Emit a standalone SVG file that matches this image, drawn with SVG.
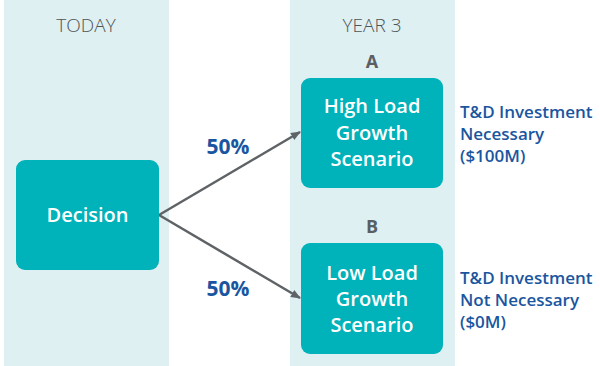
<svg xmlns="http://www.w3.org/2000/svg" width="600" height="366" viewBox="0 0 600 366">
<style>
.panel{fill:#dff0f2}
.hdr{font-family:"Open Sans","Noto Sans",sans-serif;font-weight:300;font-size:19px;fill:#4f5458;text-anchor:middle}
.lbl{font-family:"Open Sans","Noto Sans",sans-serif;font-weight:700;font-size:18px;fill:#5a5f63;text-anchor:middle}
.box{fill:#00b2b9}
.bt{font-family:"Open Sans","Noto Sans",sans-serif;font-weight:600;font-size:20px;fill:#ffffff;text-anchor:middle}
.side{font-family:"Open Sans","Noto Sans",sans-serif;font-weight:600;font-size:17px;fill:#1a56a0}
.pct{font-family:"Open Sans","Noto Sans",sans-serif;font-weight:700;font-size:21px;fill:#1a56a0;text-anchor:middle}
.conn{stroke:#5f6366;stroke-width:2.5;fill:none;marker-end:url(#ah)}
</style>
<defs>
<marker id="ah" markerWidth="10" markerHeight="8" refX="9" refY="4" orient="auto" markerUnits="userSpaceOnUse" viewBox="0 0 10 8">
<path d="M0,0 L10,4 L0,8 Z" fill="#5f6366"/>
</marker>
</defs>
<rect class="panel" x="4" y="0" width="165" height="366"/>
<rect class="panel" x="290" y="0" width="165" height="366"/>
<text class="hdr" x="86" y="32">TODAY</text>
<text class="hdr" x="372" y="32">YEAR 3</text>
<g id="connectors">
<line class="conn" x1="159" y1="215" x2="300" y2="132"/>
<line class="conn" x1="159" y1="215" x2="300" y2="298"/>
<text class="pct" x="228" y="154">50%</text>
<text class="pct" x="228" y="296">50%</text>
</g>
<g id="decision">
<rect class="box" x="16" y="160" width="143" height="110" rx="9"/>
<text class="bt" x="87.5" y="222">Decision</text>
</g>
<g id="scenarioA">
<text class="lbl" x="372" y="68">A</text>
<rect class="box" x="301" y="78" width="142" height="110" rx="9"/>
<text class="bt" x="372" y="113">High Load</text>
<text class="bt" x="372" y="140">Growth</text>
<text class="bt" x="372" y="166">Scenario</text>
</g>
<g id="outcomeA">
<text class="side" x="460" y="118">T&amp;D Investment</text>
<text class="side" x="460" y="140">Necessary</text>
<text class="side" x="460" y="162">($100M)</text>
</g>
<g id="scenarioB">
<text class="lbl" x="372" y="233">B</text>
<rect class="box" x="301" y="243" width="142" height="111" rx="9"/>
<text class="bt" x="372" y="280">Low Load</text>
<text class="bt" x="372" y="306">Growth</text>
<text class="bt" x="372" y="332">Scenario</text>
</g>
<g id="outcomeB">
<text class="side" x="460" y="284">T&amp;D Investment</text>
<text class="side" x="460" y="306">Not Necessary</text>
<text class="side" x="460" y="328">($0M)</text>
</g>
</svg>
